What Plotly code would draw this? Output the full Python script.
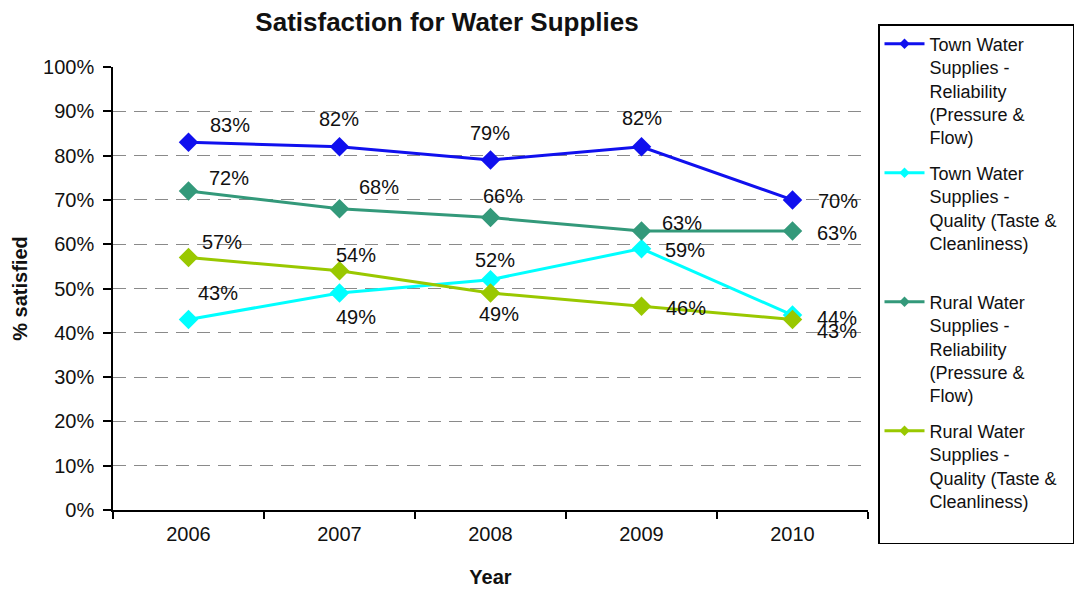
import plotly.graph_objects as go

years = ["2006", "2007", "2008", "2009", "2010"]
town_reliability = [0.83, 0.82, 0.79, 0.82, 0.70]
town_quality = [0.43, 0.49, 0.52, 0.59, 0.44]
rural_reliability = [0.72, 0.68, 0.66, 0.63, 0.63]
rural_quality = [0.57, 0.54, 0.49, 0.46, 0.43]
y_ticks = [0, 0.1, 0.2, 0.3, 0.4, 0.5, 0.6, 0.7, 0.8, 0.9, 1.0]

legend_names = [
    "Town Water<br>Supplies -<br>Reliability<br>(Pressure &<br>Flow)",
    "Town Water<br>Supplies -<br>Quality (Taste &&nbsp;&nbsp;<br>Cleanliness)<br> ",
    "Rural Water<br>Supplies -<br>Reliability<br>(Pressure &<br>Flow)",
    "Rural Water<br>Supplies -<br>Quality (Taste &&nbsp;&nbsp;<br>Cleanliness)<br> ",
]
series = [town_reliability, town_quality, rural_reliability, rural_quality]
colors = ["#1010EE", "#00FFFF", "#33997A", "#99C800"]

# label offsets (px, right / down) relative to each point
label_offsets = [
    [(41, -17), (-1, -28), (-1, -27), (0, -29), (45, 1)],
    [(29, -27), (16, 24), (4, -20), (43, 1), (44, 3)],
    [(40, -13), (39, -22), (12, -22), (40, -8), (44, 2)],
    [(33, -15), (16, -16), (8, 21), (44, 2), (44, 11)],
]

FONT = "Liberation Sans, Arial, sans-serif"
W, H = 1075, 584  # page body adds an 8px offset
fig = go.Figure()

for vals, col in zip(series, colors):
    fig.add_trace(go.Scatter(
        x=years, y=vals, mode="lines+markers",
        line=dict(color=col, width=3),
        marker=dict(symbol="diamond", size=15, color=col),
        showlegend=False, hoverinfo="skip",
    ))

for i, (name, col) in enumerate(zip(legend_names, colors)):
    fig.add_trace(go.Scatter(
        x=[None], y=[None], mode="lines+markers", name=name,
        line=dict(color=col, width=3),
        marker=dict(symbol="diamond", size=8, color=col),
        legendgroup=f"g{i}", showlegend=True,
    ))

for vals, offs in zip(series, label_offsets):
    for idx, (v, (dx, dy)) in enumerate(zip(vals, offs)):
        fig.add_annotation(
            x=idx, y=v, xref="x", yref="y", text=f"{round(v*100)}%",
            showarrow=False, xshift=dx, yshift=-dy,
            font=dict(family=FONT, size=20, color="#111111"),
        )

fig.update_layout(
    width=W, height=H,
    margin=dict(l=105, r=215, t=59, b=82, autoexpand=False),
    paper_bgcolor="white", plot_bgcolor="white",
    font=dict(family=FONT, size=20, color="#111111"),
    title=dict(text="<b>Satisfaction for Water Supplies</b>", x=439/W, xanchor="center",
               y=1-14/H, yanchor="middle", font=dict(family=FONT, size=26, color="#111111")),
    legend=dict(
        x=(878-113)/755, xanchor="left", y=(510-24)/443, yanchor="top",
        bordercolor="black", borderwidth=1.5, bgcolor="white",
        font=dict(family=FONT, size=18, color="#111111"),
        valign="top", tracegroupgap=9, traceorder="grouped", maxheight=560,
        itemwidth=40,
    ),
    xaxis=dict(
        type="category", range=[-0.5, 4.5], automargin=False,
        showline=True, linecolor="black", linewidth=1.5,
        ticks="outside", tickson="boundaries", ticklen=7, tickcolor="black", tickwidth=1.5,
        ticklabelstandoff=5,
        showgrid=False, zeroline=False,
        tickfont=dict(family=FONT, size=20, color="#111111"),
        title=dict(text="<b>Year</b>", standoff=26, font=dict(family=FONT, size=20, color="#111111")),
    ),
    yaxis=dict(
        range=[0, 1], tickvals=y_ticks, tickformat=".0%", automargin=False,
        showline=True, linecolor="black", linewidth=1.5,
        ticks="outside", ticklen=8, tickcolor="black", tickwidth=1.5,
        ticklabelstandoff=5,
        showgrid=True, gridcolor="#8a8a8a", gridwidth=1, griddash="13px,8px",
        zeroline=False,
        tickfont=dict(family=FONT, size=20, color="#111111"),
        title=dict(text="<b>% satisfied</b>", standoff=10, font=dict(family=FONT, size=20, color="#111111")),
    ),
)

fig.write_html("out.html")
